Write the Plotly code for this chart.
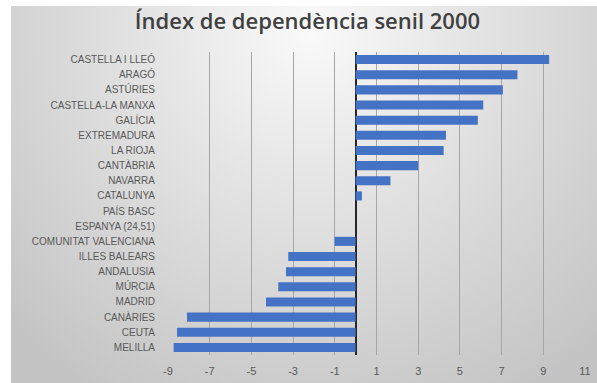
import base64
import plotly.graph_objects as go

regions = ["CASTELLA I LLEÓ", "ARAGÓ", "ASTÚRIES", "CASTELLA-LA MANXA", "GALÍCIA",
           "EXTREMADURA", "LA RIOJA", "CANTÀBRIA", "NAVARRA", "CATALUNYA",
           "PAÍS BASC", "ESPANYA (24,51)", "COMUNITAT VALENCIANA", "ILLES BALEARS",
           "ANDALUSIA", "MÚRCIA", "MADRID", "CANÀRIES", "CEUTA", "MELILLA"]
values = [9.28, 7.76, 7.06, 6.12, 5.86,
          4.33, 4.22, 3.0, 1.67, 0.3,
          0.0, 0.0, -1.01, -3.23,
          -3.34, -3.71, -4.3, -8.09, -8.57, -8.73]
x_ticks = [-9, -7, -5, -3, -1, 1, 3, 5, 7, 9, 11]

W, H = 597, 383
ML, MR, MT, MB = 168, 12, 52, 28
pw, ph = W - ML - MR, H - MT - MB

svg = ('<svg xmlns="http://www.w3.org/2000/svg" width="586" height="377" viewBox="0 0 586 377" preserveAspectRatio="none">'
       '<defs><radialGradient id="g" gradientUnits="userSpaceOnUse" cx="300" cy="25" r="420">'
       '<stop offset="0" stop-color="#fafafa"/><stop offset="0.35" stop-color="#e6e6e6"/>'
       '<stop offset="1" stop-color="#c4c4c4"/></radialGradient></defs>'
       '<rect width="586" height="377" fill="url(#g)"/></svg>')
src = "data:image/svg+xml;base64," + base64.b64encode(svg.encode()).decode()

bx0, bx1, by0, by1 = 11, 597, 6, 383
img_x = (bx0 - ML) / pw
img_y = (H - MB - by0) / ph
img_w = (bx1 - bx0) / pw
img_h = (by1 - by0) / ph

fig = go.Figure(go.Bar(
    y=regions, x=values, orientation="h",
    marker=dict(color="#4472C4", line=dict(width=0)),
    hoverinfo="skip",
))

fig.update_layout(
    width=W, height=H,
    margin=dict(l=ML, r=MR, t=MT, b=MB, autoexpand=False),
    paper_bgcolor="white", plot_bgcolor="rgba(0,0,0,0)",
    bargap=0.4,
    showlegend=False,
    title=dict(text="Índex de dependència senil 2000", x=0.515, xanchor="center",
               xref="container", yref="container", automargin=False,
               y=1 - 21 / H, yanchor="middle",
               font=dict(family="Open Sans", size=22, color="#404040", weight=600)),
    images=[dict(source=src, xref="paper", yref="paper", x=img_x, y=img_y,
                 sizex=img_w, sizey=img_h, xanchor="left", yanchor="top",
                 sizing="stretch", layer="below")],
    font=dict(family="Liberation Sans, Arial", size=10, color="#595959"),
)
fig.update_xaxes(range=[-9, 11], tickvals=x_ticks, ticktext=[str(v) for v in x_ticks],
                 showgrid=True, gridcolor="#a6a6a6", gridwidth=1,
                 zeroline=True, zerolinecolor="#262626", zerolinewidth=2,
                 showline=False, ticks="", ticklabelstandoff=8, automargin=False,
                 tickfont=dict(size=11, color="#595959"))
fig.update_yaxes(autorange="reversed", showgrid=False, zeroline=False, showline=False,
                 ticks="", ticklabelstandoff=12, automargin=False,
                 tickfont=dict(size=10, color="#595959"))

fig.write_html("out.html", config={"displayModeBar": False},
               post_script="document.body.style.margin='0';document.body.style.overflow='hidden';")
